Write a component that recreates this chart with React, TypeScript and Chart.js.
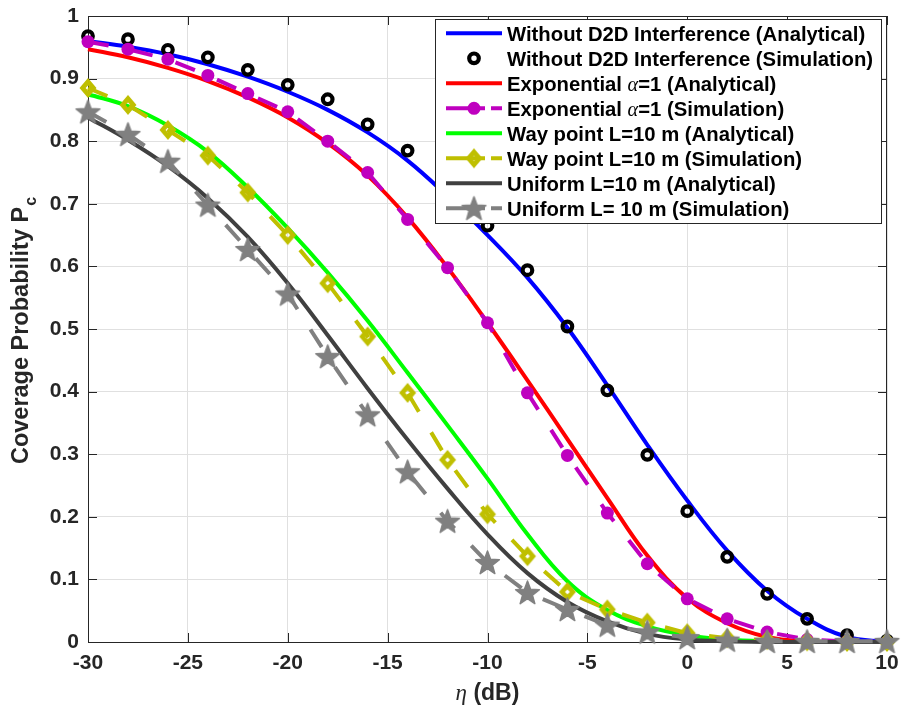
import React, { useEffect, useRef } from 'react';
import { Chart, registerables } from 'chart.js';

Chart.register(...registerables);

// ---------- data ----------
const eta = [-30, -28, -26, -24, -22, -20, -18, -16, -14, -12, -10, -8, -6, -4, -2, 0, 2, 4, 6, 8, 10];

const withoutAnalytical = [0.960, 0.951, 0.939, 0.923, 0.903, 0.879, 0.850, 0.814, 0.769, 0.712, 0.650, 0.582, 0.502, 0.410, 0.315, 0.226, 0.146, 0.082, 0.037, 0.008, 0.000];
const withoutSimulation = [0.968, 0.963, 0.946, 0.934, 0.914, 0.890, 0.867, 0.827, 0.785, 0.725, 0.665, 0.594, 0.504, 0.402, 0.299, 0.209, 0.136, 0.077, 0.037, 0.011, 0.002];
const expAnalytical = [0.947, 0.934, 0.917, 0.896, 0.870, 0.838, 0.797, 0.745, 0.678, 0.598, 0.510, 0.418, 0.324, 0.230, 0.138, 0.070, 0.030, 0.008, 0.001, 0.000, 0.000];
const expSimulation = [0.959, 0.947, 0.931, 0.905, 0.876, 0.847, 0.800, 0.750, 0.675, 0.598, 0.510, 0.398, 0.298, 0.206, 0.125, 0.069, 0.037, 0.016, 0.004, 0.001, 0.000];
const wayAnalytical = [0.875, 0.856, 0.825, 0.783, 0.726, 0.661, 0.590, 0.513, 0.430, 0.346, 0.261, 0.172, 0.097, 0.051, 0.025, 0.011, 0.004, 0.001, 0.000, 0.000, 0.000];
const waySimulation = [0.885, 0.858, 0.818, 0.777, 0.718, 0.650, 0.573, 0.488, 0.398, 0.291, 0.204, 0.137, 0.080, 0.052, 0.031, 0.014, 0.006, 0.003, 0.001, 0.000, 0.000];
const uniformAnalytical = [0.838, 0.802, 0.760, 0.709, 0.647, 0.573, 0.490, 0.405, 0.323, 0.245, 0.172, 0.110, 0.064, 0.033, 0.013, 0.004, 0.001, 0.000, 0.000, 0.000, 0.000];
const uniformSimulation = [0.847, 0.811, 0.768, 0.698, 0.627, 0.556, 0.456, 0.363, 0.272, 0.193, 0.127, 0.079, 0.052, 0.027, 0.016, 0.007, 0.003, 0.001, 0.001, 0.001, 0.001];

const legendLabels = [
  'Without D2D Interference (Analytical)',
  'Without D2D Interference (Simulation)',
  'Exponential α=1 (Analytical)',
  'Exponential α=1 (Simulation)',
  'Way point L=10 m (Analytical)',
  'Way point L=10 m (Simulation)',
  'Uniform L=10 m (Analytical)',
  'Uniform L= 10 m (Simulation)',
];

const xTickValues = [-30, -25, -20, -15, -10, -5, 0, 5, 10];
const yTickValues = [0, 0.1, 0.2, 0.3, 0.4, 0.5, 0.6, 0.7, 0.8, 0.9, 1];

const xTitleSymbol = 'η';
const xTitleUnit = ' (dB)';
const yTitleMain = 'Coverage Probability P';
const yTitleSub = 'c';

// ---------- styles ----------
const FONT = '"Liberation Sans", Arial, Helvetica, sans-serif';
const SERIF = '"Liberation Serif", "DejaVu Serif", serif';
const AXIS_COLOR = '#262626';
const GRID_COLOR = '#e0e0e0';
const TICK_LEN = 9;

function makeStar(color: string, outer: number, inner: number) {
  const size = Math.ceil(outer * 2 + 4);
  const c = document.createElement('canvas');
  c.width = size;
  c.height = size;
  const g = c.getContext('2d')!;
  g.translate(size / 2, size / 2 + 1);
  g.beginPath();
  for (let i = 0; i < 10; i++) {
    const r = i % 2 === 0 ? outer : inner;
    const a = -Math.PI / 2 + (i * Math.PI) / 5;
    g.lineTo(r * Math.cos(a), r * Math.sin(a));
  }
  g.closePath();
  g.fillStyle = color;
  g.fill();
  g.lineJoin = 'round';
  g.lineWidth = 1.5;
  g.strokeStyle = color;
  g.stroke();
  return c;
}

function makeDiamond(color: string, outer: number, hole: number) {
  const size = Math.ceil(outer * 2 + 2);
  const c = document.createElement('canvas');
  c.width = size;
  c.height = size;
  const g = c.getContext('2d')!;
  g.translate(size / 2, size / 2);
  g.beginPath();
  g.moveTo(0, -outer);
  g.lineTo(outer * 0.85, 0);
  g.lineTo(0, outer);
  g.lineTo(-outer * 0.85, 0);
  g.closePath();
  g.moveTo(0, -hole);
  g.lineTo(-hole, 0);
  g.lineTo(0, hole);
  g.lineTo(hole, 0);
  g.closePath();
  g.fillStyle = color;
  g.fill('evenodd');
  return c;
}

function drawRich(ctx: CanvasRenderingContext2D, text: string, x: number, y: number, size: number) {
  const parts = text.split(/(α)/);
  let cx = x;
  for (const p of parts) {
    if (!p) continue;
    ctx.font = p === 'α' ? `italic ${size}px ${SERIF}` : `bold ${size}px ${FONT}`;
    ctx.fillText(p, cx, y);
    cx += ctx.measureText(p).width;
  }
}

function drawMarker(ctx: CanvasRenderingContext2D, ds: any, x: number, y: number) {
  const ps = ds.pointStyle;
  if (!ds.pointRadius) return;
  if (ps instanceof HTMLCanvasElement) {
    ctx.drawImage(ps, x - ps.width / 2, y - ps.height / 2);
  } else {
    ctx.beginPath();
    ctx.arc(x, y, ds.pointRadius, 0, Math.PI * 2);
    if (ds.pointBackgroundColor && ds.pointBackgroundColor !== 'rgba(0,0,0,0)') {
      ctx.fillStyle = ds.pointBackgroundColor;
      ctx.fill();
    }
    if (ds.pointBorderWidth) {
      ctx.lineWidth = ds.pointBorderWidth;
      ctx.strokeStyle = ds.pointBorderColor;
      ctx.stroke();
    }
  }
}

const matlabPlugin = {
  id: 'matlabLook',
  beforeDatasetsDraw(chart: any) {
    const { ctx, chartArea: a, scales } = chart;
    ctx.save();
    ctx.strokeStyle = AXIS_COLOR;
    ctx.lineWidth = 1;
    ctx.beginPath();
    ctx.rect(Math.round(a.left) + 0.5, Math.round(a.top) + 0.5, Math.round(a.right - a.left) - 1, Math.round(a.bottom - a.top));
    for (const v of xTickValues) {
      const px = Math.round(scales.x.getPixelForValue(v)) + 0.5;
      ctx.moveTo(px, a.bottom);
      ctx.lineTo(px, a.bottom - TICK_LEN);
      ctx.moveTo(px, a.top);
      ctx.lineTo(px, a.top + TICK_LEN);
    }
    for (const v of yTickValues) {
      const py = Math.round(scales.y.getPixelForValue(v)) + 0.5;
      ctx.moveTo(a.left, py);
      ctx.lineTo(a.left + TICK_LEN, py);
      ctx.moveTo(a.right, py);
      ctx.lineTo(a.right - TICK_LEN, py);
    }
    ctx.stroke();
    ctx.restore();
  },
  afterDraw(chart: any) {
    const { ctx, chartArea: a } = chart;
    ctx.save();
    // axis titles
    ctx.fillStyle = AXIS_COLOR;
    ctx.textBaseline = 'alphabetic';
    ctx.font = `italic 23px ${SERIF}`;
    const w1 = ctx.measureText(xTitleSymbol).width;
    ctx.font = `bold 23px ${FONT}`;
    const w2 = ctx.measureText(xTitleUnit).width;
    const xs = (a.left + a.right) / 2 - (w1 + w2) / 2;
    ctx.font = `italic 23px ${SERIF}`;
    ctx.fillText(xTitleSymbol, xs, 700);
    ctx.font = `bold 23px ${FONT}`;
    ctx.fillText(xTitleUnit, xs + w1, 700);

    ctx.save();
    ctx.translate(28, (a.top + a.bottom) / 2 + 2);
    ctx.rotate(-Math.PI / 2);
    ctx.font = `bold 23.5px ${FONT}`;
    const m1 = ctx.measureText(yTitleMain).width;
    ctx.font = `bold 16px ${FONT}`;
    const m2 = ctx.measureText(yTitleSub).width;
    const ys = -(m1 + m2) / 2;
    ctx.font = `bold 23.5px ${FONT}`;
    ctx.fillText(yTitleMain, ys, 0);
    ctx.font = `bold 16px ${FONT}`;
    ctx.fillText(yTitleSub, ys + m1 + 1, 8);
    ctx.restore();

    // legend
    const bx = 435, by = 19, bw = 446, bh = 204;
    ctx.fillStyle = '#ffffff';
    ctx.fillRect(bx, by, bw, bh);
    ctx.strokeStyle = AXIS_COLOR;
    ctx.lineWidth = 1;
    ctx.strokeRect(bx + 0.5, by + 0.5, bw, bh);
    chart.data.datasets.forEach((ds: any, i: number) => {
      const y = 33.3 + i * 25;
      ctx.setLineDash([]);
      if (ds.showLine !== false) {
        ctx.strokeStyle = ds.borderColor;
        ctx.lineWidth = 4;
        ctx.beginPath();
        if (ds.borderDash) {
          ctx.moveTo(446, y);
          ctx.lineTo(485, y);
          ctx.moveTo(491, y);
          ctx.lineTo(502, y);
        } else {
          ctx.moveTo(446, y);
          ctx.lineTo(502, y);
        }
        ctx.stroke();
      }
      drawMarker(ctx, ds, 474, y);
      ctx.fillStyle = '#000000';
      drawRich(ctx, legendLabels[i], 507, y + 8, 20.3);
    });
    ctx.restore();
  },
};

const pts = (arr: number[]) => eta.map((x, i) => ({ x, y: arr[i] }));

export default function App() {
  const ref = useRef<HTMLCanvasElement>(null);

  useEffect(() => {
    const canvas = ref.current!;
    const star = makeStar('#808080', 12.5, 5.2);
    const diamond = makeDiamond('#bfbf00', 10, 2.4);
    const dash = [21, 24];
    const analytic = { borderWidth: 4, pointRadius: 0, tension: 0.4, cubicInterpolationMode: 'default', fill: false, clip: false };
    const chart = new Chart(canvas, {
      type: 'line',
      data: {
        datasets: [
          { label: legendLabels[0], data: pts(withoutAnalytical), borderColor: '#0000ff', ...analytic, order: 8 },
          {
            label: legendLabels[1], data: pts(withoutSimulation), showLine: false, borderColor: '#000000',
            pointStyle: 'circle', pointRadius: 4.8, pointBorderWidth: 4.2, pointBorderColor: '#000000',
            pointBackgroundColor: 'rgba(0,0,0,0)', clip: false, order: 7,
          },
          { label: legendLabels[2], data: pts(expAnalytical), borderColor: '#ff0000', ...analytic, order: 6 },
          {
            label: legendLabels[3], data: pts(expSimulation), borderColor: '#bf00bf', borderWidth: 4, borderDash: dash,
            pointStyle: 'circle', pointRadius: 6.5, pointBorderWidth: 0, pointBorderColor: '#bf00bf',
            pointBackgroundColor: '#bf00bf', fill: false, clip: false, order: 5,
          },
          { label: legendLabels[4], data: pts(wayAnalytical), borderColor: '#00ff00', ...analytic, order: 4 },
          {
            label: legendLabels[5], data: pts(waySimulation), borderColor: '#bfbf00', borderWidth: 4, borderDash: dash,
            pointStyle: diamond, pointRadius: 10, fill: false, clip: false, order: 3,
          },
          { label: legendLabels[6], data: pts(uniformAnalytical), borderColor: '#404040', ...analytic, order: 2 },
          {
            label: legendLabels[7], data: pts(uniformSimulation), borderColor: '#808080', borderWidth: 4, borderDash: dash,
            pointStyle: star, pointRadius: 12, fill: false, clip: false, order: 1,
          },
        ] as any,
      },
      options: {
        responsive: false,
        animation: false,
        devicePixelRatio: 1,
        events: [],
        layout: { padding: { left: 0, top: 8, right: 12, bottom: 0 } },
        plugins: { legend: { display: false }, tooltip: { enabled: false } },
        scales: {
          x: {
            type: 'linear',
            min: -30,
            max: 10,
            afterBuildTicks: (s: any) => { s.ticks = xTickValues.map((v) => ({ value: v })); },
            afterFit: (s: any) => { s.height = 68; s.paddingLeft = 0; s.paddingRight = 0; },
            ticks: {
              autoSkip: false, maxRotation: 0, padding: 9, color: AXIS_COLOR,
              font: { family: FONT, size: 21, weight: 'bold' },
              callback: (v: any) => String(v),
            },
            grid: { color: GRID_COLOR, lineWidth: 1, drawTicks: false },
            border: { display: false },
          },
          y: {
            type: 'linear',
            min: 0,
            max: 1,
            afterBuildTicks: (s: any) => { s.ticks = yTickValues.map((v) => ({ value: v })); },
            afterFit: (s: any) => { s.width = 88; s.paddingTop = 0; s.paddingBottom = 0; },
            ticks: {
              autoSkip: false, padding: 9, color: AXIS_COLOR,
              font: { family: FONT, size: 21, weight: 'bold' },
              callback: (v: any) => (v === 0 || v === 1 ? String(v) : Number(v).toFixed(1)),
            },
            grid: { color: GRID_COLOR, lineWidth: 1, drawTicks: false },
            border: { display: false },
          },
        },
      } as any,
      plugins: [matlabPlugin],
    });
    return () => chart.destroy();
  }, []);

  return (
    <div style={{ position: 'absolute', left: 0, top: 0, width: 903, height: 710, background: '#ffffff' }}>
      <canvas ref={ref} width={903} height={710} style={{ display: 'block', width: 903, height: 710 }} />
    </div>
  );
}
